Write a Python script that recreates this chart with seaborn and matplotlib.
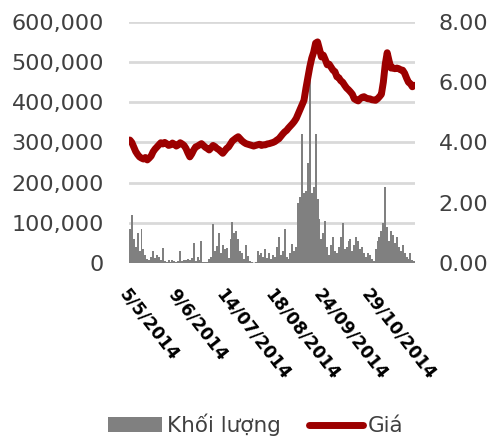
import pandas as pd
import seaborn as sns
import matplotlib.pyplot as plt
from matplotlib.patches import Patch
from matplotlib.lines import Line2D
from matplotlib.ticker import FuncFormatter

# khối lượng giao dịch theo phiên (cổ phiếu)
volume = [
    85000, 120000, 60000, 40000, 75000, 30000, 85000, 35000, 20000, 10000,
    8000, 15000, 30000, 12000, 20000, 15000, 8000, 38000, 5000, 3000,
    8000, 2000, 6000, 4000, 3000, 5000, 30000, 4000, 6000, 8000,
    10000, 6000, 12000, 50000, 4000, 15000, 8000, 55000, 2000, 3000,
    2000, 10000, 15000, 98000, 30000, 42000, 75000, 25000, 45000, 35000,
    38000, 12000, 60000, 101000, 75000, 80000, 60000, 30000, 25000, 10000,
    45000, 18000, 4000, 2000, 0, 3000, 30000, 20000, 25000, 15000,
    35000, 12000, 25000, 10000, 20000, 15000, 40000, 65000, 20000, 30000,
    85000, 15000, 10000, 25000, 48000, 30000, 40000, 150000, 165000, 320000,
    175000, 180000, 250000, 470000, 175000, 190000, 320000, 160000, 110000, 60000,
    75000, 104000, 40000, 20000, 45000, 65000, 30000, 25000, 40000, 65000,
    100000, 35000, 40000, 55000, 60000, 30000, 45000, 65000, 55000, 35000,
    40000, 25000, 15000, 25000, 20000, 10000, 5000, 35000, 55000, 65000,
    80000, 100000, 188000, 90000, 55000, 80000, 70000, 50000, 65000, 40000,
    30000, 45000, 25000, 15000, 10000, 25000, 8000, 5000,
]

# giá đóng cửa (nghìn đồng)
price = [
    4.08, 4.00, 3.85, 3.70, 3.60, 3.52, 3.48, 3.45, 3.50, 3.42,
    3.48, 3.55, 3.69, 3.78, 3.85, 3.92, 3.99, 3.95, 4.00, 3.96,
    3.90, 3.92, 3.98, 3.94, 3.88, 3.92, 3.99, 3.95, 3.90, 3.80,
    3.65, 3.52, 3.62, 3.75, 3.85, 3.88, 3.92, 3.96, 3.90, 3.84,
    3.80, 3.75, 3.82, 3.90, 3.86, 3.80, 3.76, 3.70, 3.64, 3.72,
    3.80, 3.85, 3.95, 4.05, 4.10, 4.15, 4.19, 4.12, 4.05, 4.00,
    3.96, 3.94, 3.92, 3.90, 3.88, 3.90, 3.92, 3.94, 3.90, 3.92,
    3.92, 3.95, 3.96, 3.98, 4.00, 4.03, 4.08, 4.12, 4.20, 4.28,
    4.35, 4.40, 4.48, 4.55, 4.62, 4.70, 4.80, 4.95, 5.10, 5.25,
    5.40, 5.80, 6.15, 6.51, 6.80, 7.00, 7.30, 7.34, 7.10, 6.84,
    6.90, 6.75, 6.58, 6.60, 6.50, 6.40, 6.35, 6.18, 6.15, 6.05,
    6.00, 5.90, 5.81, 5.75, 5.68, 5.60, 5.45, 5.41, 5.38, 5.45,
    5.50, 5.52, 5.48, 5.45, 5.45, 5.42, 5.41, 5.40, 5.45, 5.52,
    5.60, 6.00, 6.60, 6.98, 6.70, 6.47, 6.48, 6.45, 6.47, 6.45,
    6.41, 6.40, 6.30, 6.14, 6.00, 5.95, 5.85, 5.90,
]

tick_pos = [0, 25, 50, 75, 100, 125]
tick_labels = ['5/5/2014', '9/6/2014', '14/07/2014', '18/08/2014', '24/09/2014', '29/10/2014']

bar_color = '#808080'
line_color = '#9c0000'
text_color = '#404040'

df = pd.DataFrame({'i': range(len(volume)), 'vol': volume, 'price': price})

sns.set_style('white')
plt.rcParams['font.family'] = ['DejaVu Sans']

fig = plt.figure(figsize=(4.92, 4.41), dpi=100)
ax = fig.add_axes([0.262, 0.404, 0.582, 0.546])

sns.barplot(data=df, x='i', y='vol', color=bar_color, saturation=1, width=1.0,
            edgecolor='none', linewidth=0, ax=ax, zorder=2)
ax.set_ylim(0, 600000)
ax.set_yticks(range(0, 600001, 100000))
ax.yaxis.set_major_formatter(FuncFormatter(lambda v, p: f'{v:,.0f}'))
ax.grid(axis='y', color='#d9d9d9', linewidth=2)
ax.set_axisbelow(True)
ax.set_xlim(-0.5, len(volume) - 0.5)
ax.set_xticks(tick_pos)
ax.set_xticklabels(tick_labels, rotation=-52, ha='left', va='top',
                   rotation_mode='anchor', fontweight='bold', fontsize=12.5, color='black')
ax.set_xlabel('')
ax.set_ylabel('')
ax.tick_params(axis='y', length=0, labelsize=16, labelcolor=text_color, pad=18)
ax.tick_params(axis='x', length=0, pad=16)
for s in ax.spines.values():
    s.set_visible(False)

ax2 = ax.twinx()
sns.lineplot(data=df, x='i', y='price', color=line_color, linewidth=5, ax=ax2)
ax2.set_ylim(0, 8)
ax2.set_yticks([0, 2, 4, 6, 8])
ax2.yaxis.set_major_formatter(FuncFormatter(lambda v, p: f'{v:.2f}'))
ax2.set_ylabel('')
ax2.tick_params(axis='y', length=0, labelsize=16, labelcolor=text_color, pad=17)
ax2.set_xlim(-0.5, len(volume) - 0.5)
for s in ax2.spines.values():
    s.set_visible(False)

handles = [Patch(facecolor=bar_color, edgecolor='none'),
           Line2D([0], [0], color=line_color, linewidth=5)]
fig.legend(handles, ['Khối lượng', 'Giá'], loc='center', bbox_to_anchor=(0.52, 0.036),
           ncol=2, frameon=False, fontsize=15.5, labelcolor=text_color,
           handlelength=2.5, handletextpad=0.25, columnspacing=1.3)

fig.savefig('out.png', dpi=100)
